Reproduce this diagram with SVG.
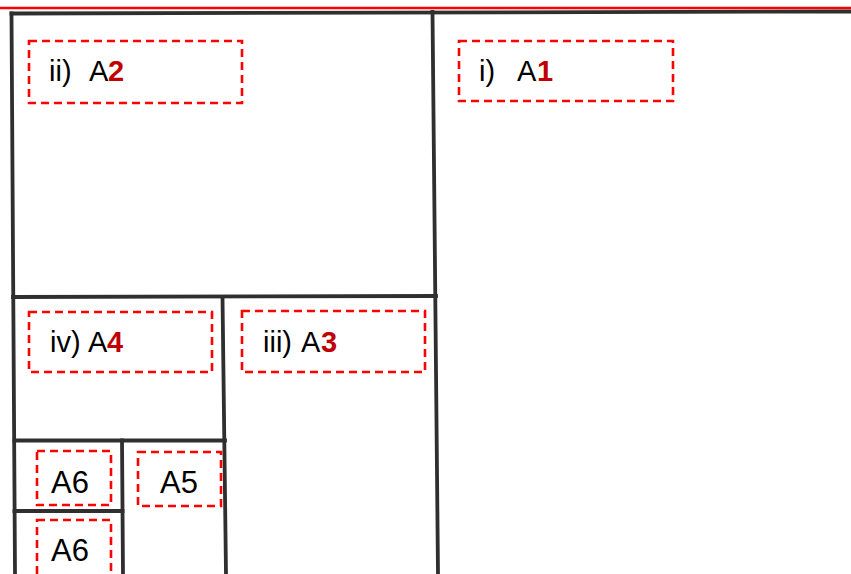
<svg xmlns="http://www.w3.org/2000/svg" width="851" height="574" viewBox="0 0 851 574">
<style>
.frame{stroke:#2f2f2f;stroke-width:3.8;fill:none;stroke-linecap:square}
.lbl{fill:none;stroke:#ff0000;stroke-width:2.6;stroke-dasharray:8 5}
.t{font-family:"Liberation Sans",Arial,sans-serif;font-size:29px;fill:#000}
.s{font-family:"Liberation Sans",Arial,sans-serif;font-size:31px;fill:#000}
.n{font-weight:bold;fill:#c00000}
</style>
<rect x="0" y="0" width="851" height="574" fill="#fff"/>
<line x1="0" y1="8" x2="851" y2="8" stroke="#ff0000" stroke-width="2.6"/>
<g id="frame" class="frame">
<line x1="11.5" y1="13.5" x2="851" y2="11.5"/>
<line x1="11.5" y1="13.5" x2="15" y2="574"/>
<line x1="432.5" y1="12" x2="438" y2="574"/>
<line x1="13" y1="297" x2="436" y2="296"/>
<line x1="222.5" y1="297" x2="226" y2="574"/>
<line x1="14.5" y1="440.5" x2="225" y2="440.5"/>
<line x1="122" y1="440.5" x2="123" y2="574"/>
<line x1="14.5" y1="511" x2="122.5" y2="511"/>
</g>
<g id="A1">
<rect class="lbl" x="459" y="41" width="214" height="60"/>
<text class="t" y="81"><tspan x="479">i)</tspan><tspan x="517">A</tspan><tspan class="n" x="537">1</tspan></text>
</g>
<g id="A2">
<rect class="lbl" x="29" y="41" width="213" height="62"/>
<text class="t" y="81"><tspan x="49">ii)</tspan><tspan x="89">A</tspan><tspan class="n" x="108">2</tspan></text>
</g>
<g id="A3">
<rect class="lbl" x="242" y="311" width="183" height="61"/>
<text class="t" y="352"><tspan x="263">iii)</tspan><tspan x="301">A</tspan><tspan class="n" x="321">3</tspan></text>
</g>
<g id="A4">
<rect class="lbl" x="29" y="312" width="183" height="60"/>
<text class="t" y="352"><tspan x="50">iv)</tspan><tspan x="88">A</tspan><tspan class="n" x="107">4</tspan></text>
</g>
<g id="A5">
<rect class="lbl" x="138" y="452" width="83" height="54"/>
<text class="s" x="160" y="493">A5</text>
</g>
<g id="A6a">
<rect class="lbl" x="37" y="451" width="74" height="54"/>
<text class="s" x="51" y="493">A6</text>
</g>
<g id="A6b">
<rect class="lbl" x="37" y="520" width="74" height="70"/>
<text class="s" x="51" y="561">A6</text>
</g>
</svg>
